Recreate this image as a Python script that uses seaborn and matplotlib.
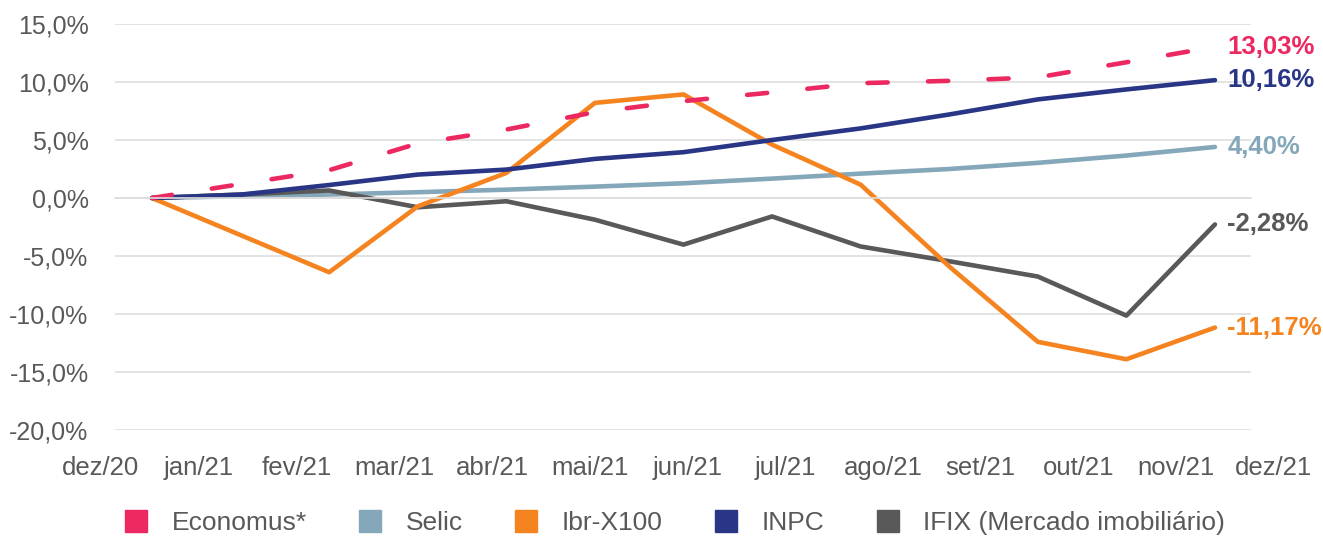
import numpy as np
import pandas as pd
import matplotlib.pyplot as plt
from matplotlib.lines import Line2D
from matplotlib.ticker import FuncFormatter
import seaborn as sns


# Dados (retorno acumulado, %)
months = ["dez/20", "jan/21", "fev/21", "mar/21", "abr/21", "mai/21", "jun/21",
          "jul/21", "ago/21", "set/21", "out/21", "nov/21", "dez/21"]
economus = [0.0, 1.2, 2.4, 4.7, 5.9, 7.4, 8.35, 9.1, 9.9, 10.1, 10.4, 11.7, 13.03]
selic = [0.0, 0.15, 0.3, 0.5, 0.72, 0.98, 1.27, 1.67, 2.1, 2.5, 3.03, 3.66, 4.40]
ibrx = [0.0, -3.2, -6.4, -0.72, 2.16, 8.2, 8.93, 4.6, 1.15, -5.9, -12.4, -13.9, -11.17]
inpc = [0.0, 0.29, 1.12, 2.02, 2.45, 3.37, 3.95, 5.0, 6.0, 7.2, 8.5, 9.36, 10.16]
ifix = [0.0, 0.3, 0.65, -0.8, -0.28, -1.87, -4.02, -1.59, -4.18, -5.45, -6.77, -10.14, -2.28]

legend_order = ["Economus*", "Selic", "Ibr-X100", "INPC", "IFIX (Mercado imobiliário)"]
draw_order = ["Selic", "IFIX (Mercado imobiliário)", "Ibr-X100", "INPC", "Economus*"]
colors = {"Economus*": "#EC2860", "Selic": "#84A7BA", "Ibr-X100": "#F58420",
          "INPC": "#293685", "IFIX (Mercado imobiliário)": "#595959"}
values = {"Economus*": economus, "Selic": selic, "Ibr-X100": ibrx,
          "INPC": inpc, "IFIX (Mercado imobiliário)": ifix}

df = pd.concat([pd.DataFrame({"x": np.arange(len(months)), "valor": v, "serie": k})
                for k, v in values.items()], ignore_index=True)

sns.set_style("white")
plt.rcParams["font.family"] = ["Liberation Sans", "DejaVu Sans"]

W, H = 1323, 538
fig = plt.figure(figsize=(W / 100, H / 100), dpi=100)
ax = fig.add_axes([115 / W, 1 - 430 / H, 1136 / W, 406 / H])

sns.lineplot(data=df, x="x", y="valor", hue="serie", style="serie",
             hue_order=draw_order, style_order=draw_order, palette=colors,
             dashes={k: ((4.4, 8.8) if k == "Economus*" else "") for k in draw_order},
             linewidth=3.3, legend=False, ax=ax)
for line in ax.lines:
    line.set_solid_capstyle("round")
    line.set_dash_capstyle("round")
    line.set_solid_joinstyle("round")

# eixos
px_step = 88.58
xmin, xmax = (115 - 152) / px_step, (1251 - 152) / px_step
ax.set_xlim(xmin, xmax)
ax.set_ylim(-20, 15)
ax.set_yticks(np.arange(-20, 16, 5))
ax.yaxis.set_major_formatter(FuncFormatter(lambda v, p: f"{v:.1f}%".replace(".", ",")))
ax.yaxis.grid(True, color="#DEDEDE", linewidth=1.2)
ax.set_axisbelow(True)
ax.set_xlabel("")
ax.set_ylabel("")
for s in ["top", "right", "left"]:
    ax.spines[s].set_visible(False)
ax.spines["bottom"].set_position(("data", 0))
ax.spines["bottom"].set_color("#DEDEDE")
ax.spines["bottom"].set_linewidth(1.2)
ax.set_xticks(np.linspace(xmin, xmax, 14))
ax.tick_params(axis="x", direction="out", length=5, width=1.2, color="#DEDEDE",
               labelbottom=False)
ax.tick_params(axis="y", length=0, pad=19, labelsize=18, labelcolor="#595959")

# rótulos dos meses
label_x = np.linspace(101, 1274, len(months)) / W
for xx, lab in zip(label_x, months):
    fig.text(xx, 1 - 468 / H, lab, ha="center", va="center", fontsize=18.5, color="#595959")

# valores finais
for k in legend_order:
    v = values[k]
    ax.annotate(f"{v[-1]:.2f}%".replace(".", ","), xy=(len(months) - 1, v[-1]),
                xytext=(9, 0), textcoords="offset points", ha="left", va="center",
                fontsize=18.5, fontweight="bold", color=colors[k], annotation_clip=False)

handles = [Line2D([], [], marker="s", linestyle="none", markersize=15.5,
                  color=colors[k], label=k) for k in legend_order]
fig.legend(handles=handles, loc="center", bbox_to_anchor=(674 / W, 1 - 523 / H),
           ncol=5, frameon=False, fontsize=19, handlelength=1.0, handletextpad=0.85,
           columnspacing=1.9, labelcolor="#595959")

fig.savefig("out.png", dpi=100)
